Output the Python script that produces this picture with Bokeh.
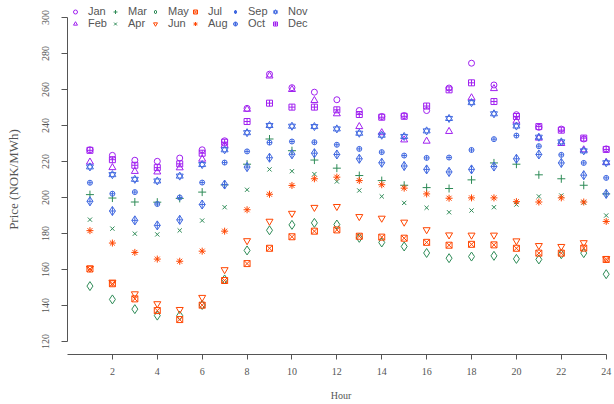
from bokeh.plotting import figure
from bokeh.models import FixedTicker, Legend, LegendItem, ColumnDataSource
from bokeh.embed import file_html
from bokeh.resources import INLINE

hours = list(range(1, 25))

jan = [226.5, 223.4, 220.7, 220.1, 221.9, 226.5, 231.5, 249.5, 268.5, 261.0, 258.5, 254.3,
       248.3, 245.0, 245.5, 248.3, 260.8, 274.6, 262.5, 246.0, 239.0, 238.0, 232.5, 227.0]
feb = [219.7, 216.6, 214.5, 214.2, 216.5, 221.3, 229.0, 249.0, 267.5, 260.0, 253.9, 246.5,
       239.4, 236.0, 232.0, 231.3, 236.7, 255.4, 260.5, 242.4, 233.0, 230.0, 226.5, 219.5]
mar = [201.6, 199.7, 197.5, 197.4, 199.5, 203.0, 207.0, 218.5, 232.5, 226.0, 220.8, 216.3,
       212.2, 209.4, 206.8, 205.5, 205.0, 209.8, 219.2, 218.5, 212.6, 210.4, 206.8, 202.0]
apr = [187.7, 182.7, 179.9, 179.5, 181.7, 187.2, 194.6, 204.3, 215.6, 214.6, 213.0, 208.9,
       203.9, 200.6, 197.0, 194.3, 191.8, 192.8, 194.6, 196.1, 200.6, 201.1, 197.2, 190.0]
may = [150.8, 143.4, 138.0, 134.4, 134.4, 140.3, 154.5, 170.6, 181.8, 184.8, 185.9, 185.0,
       177.6, 175.0, 172.8, 169.2, 166.3, 167.2, 167.6, 165.9, 165.6, 168.5, 169.1, 157.4]
jun = [160.8, 153.0, 146.5, 141.0, 137.8, 144.5, 159.9, 176.0, 186.8, 191.2, 194.5, 195.0,
       189.4, 188.5, 186.3, 182.1, 179.2, 179.1, 179.1, 175.9, 173.3, 172.8, 174.9, 166.0]
jul = [160.3, 152.1, 143.7, 137.2, 132.2, 140.2, 153.9, 163.3, 171.8, 178.2, 181.3, 182.0,
       178.5, 178.0, 177.4, 175.1, 173.5, 174.0, 173.7, 171.8, 169.1, 169.1, 171.9, 165.6]
aug = [181.6, 174.7, 169.5, 165.8, 164.6, 170.2, 181.3, 193.2, 201.8, 206.7, 210.4, 211.3,
       209.4, 207.1, 205.2, 202.0, 199.6, 199.8, 199.8, 197.7, 197.5, 199.8, 197.5, 186.7]
sep = [197.9, 192.5, 187.3, 184.5, 187.6, 196.1, 207.2, 216.9, 222.1, 224.0, 224.6, 223.9,
       221.5, 219.3, 217.5, 215.6, 214.2, 215.6, 217.2, 221.5, 223.9, 219.2, 212.4, 202.0]
oct_ = [208.2, 202.1, 203.0, 196.4, 200.0, 208.3, 219.4, 225.6, 230.5, 231.1, 230.7, 229.3,
        227.0, 225.2, 223.3, 222.0, 222.2, 226.4, 232.4, 234.4, 228.5, 223.7, 219.2, 210.9]
nov = [217.0, 212.7, 210.1, 209.2, 211.9, 218.3, 226.5, 236.0, 240.0, 239.6, 239.4, 238.1,
       235.7, 234.6, 233.9, 237.0, 243.9, 252.7, 246.5, 239.7, 233.5, 230.9, 225.9, 219.3]
dec = [226.2, 221.0, 217.9, 216.6, 218.7, 224.6, 230.7, 242.2, 252.4, 250.2, 250.2, 248.7,
       246.1, 244.6, 245.1, 250.8, 259.8, 263.7, 253.3, 245.0, 239.4, 237.4, 233.0, 226.7]

month_names = ["Jan", "Feb", "Mar", "Apr", "May", "Jun",
               "Jul", "Aug", "Sep", "Oct", "Nov", "Dec"]
month_values = [jan, feb, mar, apr, may, jun, jul, aug, sep, oct_, nov, dec]

y_ticks = [120, 140, 160, 180, 200, 220, 240, 260, 280, 300]
x_ticks = [2, 4, 6, 8, 10, 12, 14, 16, 18, 20, 22, 24]

PURPLE = "#A020F0"
GREEN = "#2E8B57"
ORANGE = "#FF4500"
BLUE = "#4169E1"

styles = {
    "Jan": (["circle"], PURPLE, 6),
    "Feb": (["triangle"], PURPLE, 7),
    "Mar": (["cross"], GREEN, 8),
    "Apr": (["x"], GREEN, 6),
    "May": (["diamond"], GREEN, 9),
    "Jun": (["inverted_triangle"], ORANGE, 7),
    "Jul": (["square_x"], ORANGE, 6),
    "Aug": (["asterisk"], ORANGE, 7),
    "Sep": (["diamond_cross"], BLUE, 9),
    "Oct": (["circle_cross"], BLUE, 5),
    "Nov": (["triangle", "inverted_triangle"], BLUE, 7),
    "Dec": (["square_cross"], PURPLE, 6),
}

p = figure(width=614, height=404, output_backend="svg", toolbar_location=None,
           x_range=(0, 24.37), y_range=(112.8, 307.2),
           min_border_left=67, min_border_right=0, min_border_top=4, min_border_bottom=50)
p.outline_line_color = None
p.xgrid.visible = False
p.ygrid.visible = False
p.background_fill_color = "white"

items = []
for name, vals in zip(month_names, month_values):
    markers, color, size = styles[name]
    src = ColumnDataSource(dict(x=hours, y=vals))
    rs = []
    for m in markers:
        r = p.scatter("x", "y", source=src, marker=m, size=size, fill_color=None,
                      line_color=color, line_width=1)
        rs.append(r)
    items.append(LegendItem(label=name, renderers=rs))

legend = Legend(items=items, location=(3, 325), orientation="vertical", nrows=2,
                label_text_font="Liberation Sans", label_text_font_size="11px",
                label_text_color="#555555", label_height=10, glyph_height=11, glyph_width=10,
                label_standoff=8, spacing=0, padding=0, margin=0, label_width=22,
                border_line_color=None, background_fill_alpha=0)
p.add_layout(legend)

axis_color = "#555555"
for ax in (p.xaxis[0], p.yaxis[0]):
    ax.axis_line_color = axis_color
    ax.major_tick_line_color = axis_color
    ax.minor_tick_line_color = None
    ax.major_tick_in = 0
    ax.major_tick_out = 6
    ax.major_label_text_font = "Liberation Serif"
    ax.major_label_text_font_size = "10px"
    ax.major_label_text_color = "#555555"
    ax.axis_label_text_font = "Liberation Serif"
    ax.axis_label_text_font_size = "10px"
    ax.axis_label_text_font_style = "normal"
    ax.axis_label_text_color = "#555555"

p.yaxis.ticker = FixedTicker(ticks=y_ticks)
p.xaxis.ticker = FixedTicker(ticks=x_ticks)
p.yaxis.bounds = (120, 300)
p.xaxis.bounds = (0, 24)
p.yaxis.major_label_orientation = "vertical"
p.yaxis.major_label_standoff = 12
p.yaxis.axis_label = "Price (NOK/MWh)"
p.yaxis.axis_label_text_font_size = "13px"
p.yaxis.axis_label_standoff = 19
p.xaxis.major_tick_out = 5
p.xaxis.major_label_standoff = 8
p.xaxis.axis_label = "Hour"
p.xaxis.axis_label_standoff = 12

open("out.html", "w").write(file_html(p, INLINE))
